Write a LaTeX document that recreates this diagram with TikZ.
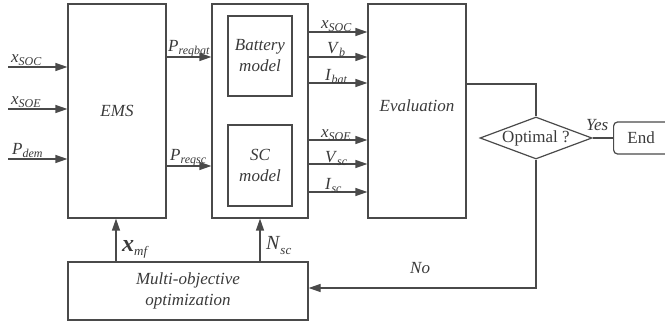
\documentclass[tikz,border=0pt]{standalone}
\usepackage{fontspec}
\setmainfont{Liberation Serif}
\usetikzlibrary{arrows.meta,shapes.geometric,calc}
\newcommand{\vv}[2]{\textit{#1}\raisebox{-3pt}{\fontsize{12}{12}\selectfont\textit{#2}}}
\definecolor{ln}{HTML}{4A4A4A}
\definecolor{tx}{HTML}{3A3A3A}
\tikzset{
  blk/.style={draw=ln,line width=1.2pt,rectangle,inner sep=0pt,font=\fontsize{17}{20}\selectfont\itshape,text=tx,align=center},
  arr/.style={draw=ln,line width=1.2pt,-{Triangle[length=12pt,width=8pt]}},
  ln/.style={draw=ln,line width=1.2pt},
  lab/.style={inner sep=0pt,text=tx,font=\fontsize{17}{19}\selectfont,anchor=base west}
}
\begin{document}
\begin{tikzpicture}[x=1pt,y=-1pt]
\useasboundingbox (0,0) rectangle (665,326);
% blocks
\node[blk,minimum width=98pt,minimum height=214pt] (ems) at (117,111) {EMS};
\node[blk,minimum width=96pt,minimum height=214pt] (mod) at (260,111) {};
\node[blk,minimum width=64pt,minimum height=80pt] (bat) at (260,56) {Battery\\[1pt]model};
\node[blk,minimum width=64pt,minimum height=81pt] (sc) at (260,165.5) {SC\\[1pt]model};
\node[blk,minimum width=98pt,minimum height=214pt] (eva) at (417,111) {};
\node[inner sep=0pt,text=tx,font=\fontsize{17}{19}\selectfont\itshape] (evat) at (417,106) {Evaluation};
\node[blk,minimum width=240pt,minimum height=58pt] (mo) at (188,291) {Multi-objective\\[1pt]optimization};
\node[draw=ln,line width=1.2pt,diamond,aspect=2.67,minimum width=112pt,minimum height=42pt,inner sep=0pt,text=tx,font=\fontsize{17}{19}\selectfont] (opt) at (536,138) {Optimal ?};
\node[draw=ln,line width=1.2pt,rounded corners=4pt,minimum width=60pt,minimum height=32pt,inner sep=0pt,text=tx,font=\fontsize{17}{19}\selectfont,anchor=west] (end) at (613,138) {\hspace*{-2pt}End\hspace*{3pt}};
% inputs
\coordinate (i1) at (8,67);
\coordinate (i2) at (8,109);
\coordinate (i3) at (8,159);
\draw[arr] (i1) -- (ems.west |- i1);
\draw[arr] (i2) -- (ems.west |- i2);
\draw[arr] (i3) -- (ems.west |- i3);
\node[lab] (li1) at (11,63) {\vv{x}{SOC}};
\node[lab] (li2) at (11,105) {\vv{x}{SOE}};
\node[lab] (li3) at (12,155) {\vv{P}{dem}};
% EMS to models
\coordinate (p1) at (0,57);
\coordinate (p2) at (0,166);
\draw[arr] (ems.east |- p1) -- (mod.west |- p1);
\draw[arr] (ems.east |- p2) -- (mod.west |- p2);
\node[lab] (lp1) at (168,52) {\vv{P}{reqbat}};
\node[lab] (lp2) at (170,161) {\vv{P}{reqsc}};
% models to evaluation
\foreach \y/\n in {32/o1,57/o2,83/o3,140/o4,164/o5,192/o6}{
  \coordinate (\n) at (0,\y);
  \draw[arr] (mod.east |- \n) -- (eva.west |- \n);
}
\node[lab] (lo1) at (321,29) {\vv{x}{SOC}};
\node[lab] (lo2) at (327,54) {\vv{V}{b}};
\node[lab] (lo3) at (325,81) {\vv{I}{bat}};
\node[lab] (lo4) at (321,138) {\vv{x}{SOE}};
\node[lab] (lo5) at (325,163) {\vv{V}{sc}};
\node[lab] (lo6) at (325,190) {\vv{I}{sc}};
% evaluation to decision
\coordinate (e1) at (0,84);
\draw[ln] (eva.east |- e1) -| (opt.north);
\draw[ln] (opt.east) -- (end.west);
\node[lab,font=\fontsize{17}{19}\selectfont\itshape] (yes) at (586,131) {Yes};
\coordinate (nob) at (536,288);
\draw[arr] (opt.south) -- (nob) -- (mo.east |- nob);
\node[lab,font=\fontsize{17}{19}\selectfont\itshape] (no) at (410,273) {No};
% feedback arrows
\coordinate (xm) at (116,0);
\coordinate (ns) at (260,0);
\draw[arr] (mo.north -| xm) -- (ems.south -| xm);
\draw[arr] (mo.north -| ns) -- (mod.south -| ns);
\node[lab] (lxm) at (122,252) {\fontsize{24}{24}\selectfont\textbf{\textit{x}}\raisebox{-4pt}{\fontsize{13}{13}\selectfont\textit{mf}}};
\node[lab] (lns) at (266,250) {\fontsize{20}{20}\selectfont\textit{N}\raisebox{-5pt}{\fontsize{13}{13}\selectfont\textit{sc}}};
\end{tikzpicture}
\end{document}
